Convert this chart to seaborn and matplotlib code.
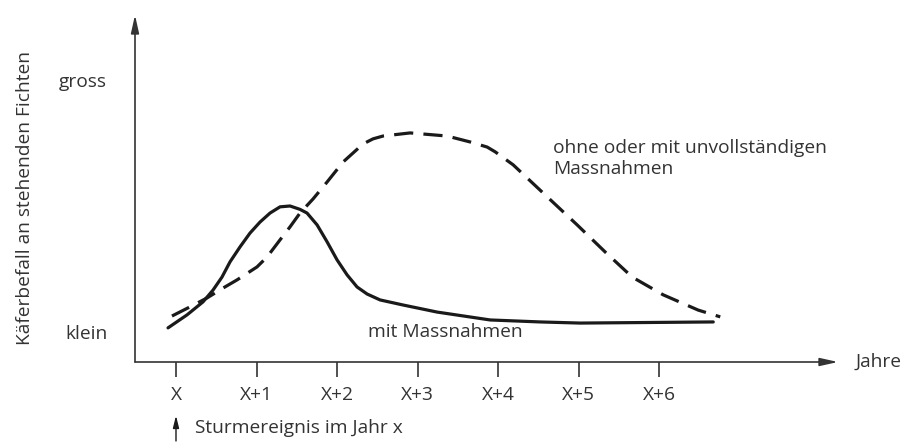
import numpy as np
import pandas as pd
import matplotlib
matplotlib.use("Agg")
import matplotlib.pyplot as plt
import seaborn as sns

# --- data (x = years after storm, y = relative infestation) ---
years = [0, 1, 2, 3, 4, 5, 6]
year_labels = ["X", "X+1", "X+2", "X+3", "X+4", "X+5", "X+6"]

mit_x = [-0.099, 0.137, 0.335, 0.460, 0.571, 0.671, 0.795, 0.919, 1.043, 1.168,
         1.292, 1.416, 1.540, 1.627, 1.752, 1.876, 2.000, 2.124, 2.248, 2.373,
         2.534, 2.820, 3.242, 3.901, 4.522, 5.019, 6.671]
mit_y = [0.121, 0.167, 0.213, 0.255, 0.301, 0.355, 0.408, 0.457, 0.496, 0.528,
         0.550, 0.553, 0.541, 0.528, 0.486, 0.426, 0.362, 0.309, 0.266, 0.241,
         0.220, 0.202, 0.177, 0.149, 0.142, 0.138, 0.142]

ohne_x = [-0.050, 0.199, 0.385, 0.584, 0.758, 1.006, 1.130, 1.292, 1.416, 1.540,
          1.702, 1.876, 2.075, 2.323, 2.447, 2.571, 2.907, 3.366, 3.652, 3.863,
          3.963, 4.186, 4.559, 4.981, 5.329, 5.665, 6.050, 6.484, 6.758]
ohne_y = [0.163, 0.199, 0.227, 0.262, 0.291, 0.337, 0.372, 0.433, 0.479, 0.528,
          0.578, 0.638, 0.709, 0.773, 0.791, 0.801, 0.812, 0.801, 0.780, 0.762,
          0.745, 0.699, 0.599, 0.486, 0.390, 0.301, 0.238, 0.184, 0.160]

level_pos = [0.106, 1.0]
level_labels = ["klein", "gross"]

df_mit = pd.DataFrame({"jahr": mit_x, "befall": mit_y})
df_ohne = pd.DataFrame({"jahr": ohne_x, "befall": ohne_y})

# --- style ---
sns.set_theme(style="white")
plt.rcParams["font.family"] = ["Open Sans", "DejaVu Sans"]
text_col = "#333333"
fs = 13.8

W, H = 915, 445
fig = plt.figure(figsize=(W / 100, H / 100), dpi=100)
ax = fig.add_axes([135 / W, (H - 362) / H, (838 - 135) / W, (362 - 15) / H])
ax.set_xlim(-0.509, 8.22)
ax.set_ylim(0, 1.23)

sns.lineplot(data=df_ohne, x="jahr", y="befall", ax=ax, color="#1a1a1a",
             linewidth=2.3, linestyle=(0, (6, 3.2)), sort=False,
             dash_capstyle="butt", dash_joinstyle="round")
sns.lineplot(data=df_mit, x="jahr", y="befall", ax=ax, color="#1a1a1a",
             linewidth=2.3, sort=False, solid_joinstyle="round")

# axes as arrows
for s in ["top", "right", "left", "bottom"]:
    ax.spines[s].set_visible(False)
ax.annotate("", xy=(1, 0), xytext=(0, 0), xycoords="axes fraction",
            arrowprops=dict(arrowstyle="-|>,head_length=0.9,head_width=0.2",
                            color="#333333", lw=1.2, shrinkA=0, shrinkB=0))
ax.annotate("", xy=(0, 1), xytext=(0, 0), xycoords="axes fraction",
            arrowprops=dict(arrowstyle="-|>,head_length=0.9,head_width=0.2",
                            color="#333333", lw=1.2, shrinkA=0, shrinkB=0))

ax.set_xticks(years)
ax.set_xticklabels(year_labels, fontsize=fs, color=text_col)
ax.tick_params(axis="x", direction="out", length=11, width=1.2, color="#333333",
               pad=6, bottom=True)
ax.set_yticks(level_pos)
ax.set_yticklabels(level_labels, fontsize=fs, color=text_col)
ax.tick_params(axis="y", length=0, pad=20)
ax.set_xlabel("")
ax.set_ylabel("")

# labels
ax.text(2.385, 0.106, "mit Massnahmen", fontsize=fs, color=text_col,
        ha="left", va="center")
ax.text(4.683, 0.722, "ohne oder mit unvollständigen\nMassnahmen", fontsize=fs,
        color=text_col, ha="left", va="center", linespacing=1.2)
ax.text(1.025, 0, "Jahre", transform=ax.transAxes, fontsize=fs, color=text_col,
        ha="left", va="center")
ax.annotate("", xy=(0, -0.19), xytext=(0, -0.28), xycoords="data",
            annotation_clip=False,
            arrowprops=dict(arrowstyle="-|>,head_length=0.6,head_width=0.15",
                            color="#1a1a1a", lw=1.0, shrinkA=0, shrinkB=0))
ax.text(0.24, -0.234, "Sturmereignis im Jahr x", fontsize=fs, color=text_col,
        ha="left", va="center", clip_on=False)

fig.text(25 / W, 1 - 198 / H, "Käferbefall an stehenden Fichten", rotation=90,
         fontsize=fs, color=text_col, ha="center", va="center")

fig.savefig("out.png", dpi=100)
